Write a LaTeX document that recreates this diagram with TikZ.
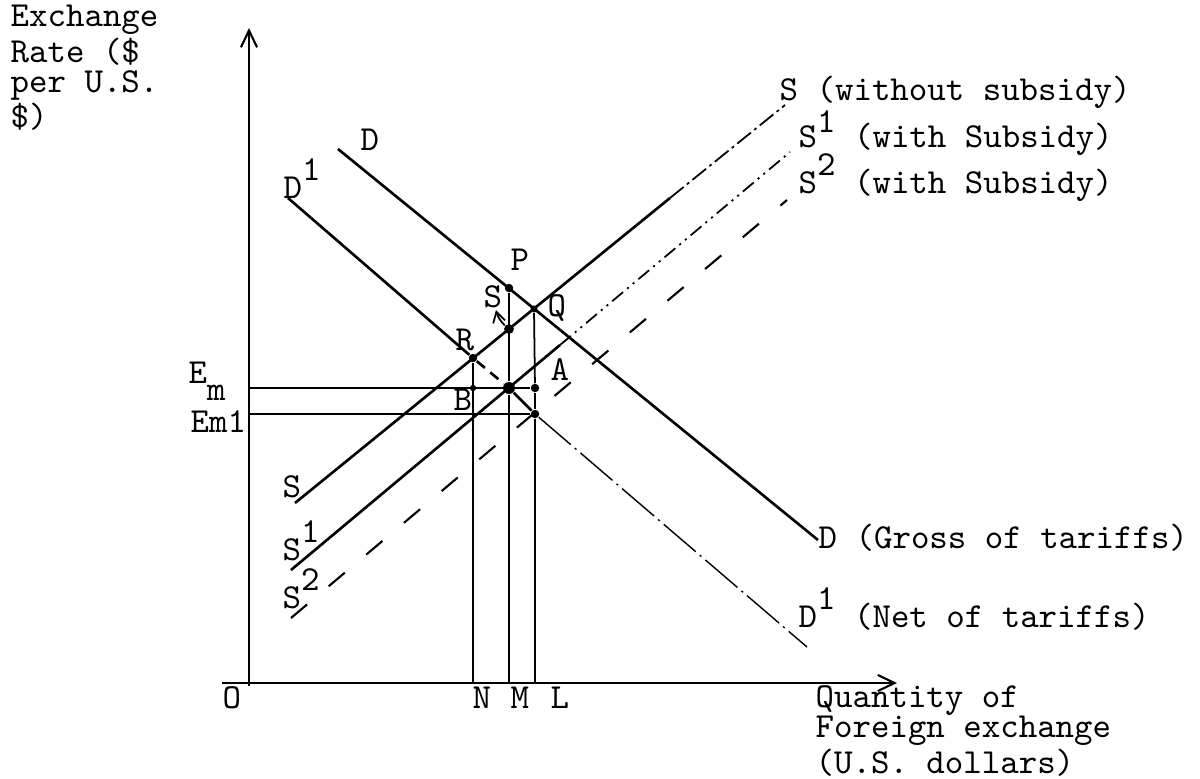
\documentclass[tikz,border=0pt]{standalone}
\usetikzlibrary{arrows.meta}
\newcommand{\up}[1]{\raisebox{0.5em}{#1}}
\newcommand{\dn}[1]{\raisebox{-0.5em}{#1}}
\lineskiplimit=-100pt
\begin{document}
\begin{tikzpicture}[x=0.01cm, y=-0.01cm,
  every node/.style={font=\fontsize{10}{8.6}\selectfont\ttfamily, inner sep=0pt},
  lbl/.style={anchor=base west},
  block/.style={anchor=north west, align=left, text width=#1,
    font=\fontsize{10}{8.5}\selectfont\ttfamily,
    execute at begin node={\setlength{\parindent}{0pt}\spaceskip=5.25pt\relax}},
  spot/.style={circle, fill, minimum size=#1},
  spot/.default=2.4pt,
  axis/.style={line width=0.6pt, -{Straight Barb[length=4.8pt,width=4.6pt]}},
  curve/.style={line width=0.75pt},
  fine/.style={line width=0.5pt},
  faint/.style={line width=0.4pt, dash pattern=on 12pt off 1.5pt on 0.6pt off 1.5pt},
  dashdot/.style={line width=0.5pt, dash pattern=on 5pt off 1.2pt on 0.8pt off 1.2pt},
  dashdotdot/.style={line width=0.5pt, dash pattern=on 4pt off 1.5pt on 0.6pt off 1.5pt on 0.6pt off 1.5pt},
  longdash/.style={line width=0.6pt, dash pattern=on 6pt off 8pt}
]
\useasboundingbox (0,0) rectangle (1200,778);

\coordinate (orig) at (249,686);
\coordinate (ytip) at (249,28);
\coordinate (xfrom) at (222,683);
\coordinate (xtip) at (897,683);
\draw[axis] (orig) -- (ytip);
\draw[axis] (xfrom) -- (xtip);

\coordinate (S0) at (295,503);
\coordinate (S1) at (670,198);
\coordinate (S2) at (785,105);
\coordinate (Sa0) at (291,570);
\coordinate (Sa1) at (560,345);
\coordinate (Sa2) at (790,152);
\coordinate (Sb0) at (291,618);
\coordinate (Sb2) at (787,200);
\coordinate (D0) at (338,149);
\coordinate (D2) at (818,540);
\coordinate (Da0) at (288,198);
\coordinate (Da2) at (807,647);
\coordinate (xN) at (473,683);
\coordinate (xM) at (509,683);
\coordinate (xL) at (535,683);
\coordinate (yEm) at (249,388);
\coordinate (yEm1) at (249,414);
\coordinate (Stip) at (496,310);

\node[spot] (P) at (509,288) {};
\node[spot=2.8pt] (Sdot) at (509,329) {};
\node[spot=2pt] (Q) at (534,309) {};
\node[spot] (R) at (473,358) {};
\node[spot=3.4pt] (C) at (509,388) {};
\node[spot] (A) at (535,388) {};
\node[spot=1.8pt] (B) at (473,388) {};
\node[spot] (Z) at (535,414) {};

\draw[curve] (S0) -- (S1);
\draw[dashdot] (S1) -- (S2);
\draw[curve] (Sa0) -- (Sa1);
\draw[dashdotdot] (Sa1) -- (Sa2);
\draw[longdash] (Sb0) -- (Sb2);
\draw[curve] (D0) -- (D2);
\draw[curve] (Da0) -- (R);
\draw[curve, dash pattern=on 3pt off 2pt] (R) -- (C);
\draw[curve] (C) -- (Z);
\draw[faint] (Z) -- (Da2);

\draw[curve] (R) -- (xN);
\draw[curve] (P) -- (C);
\draw[fine] (C) -- (xM);
\draw[fine] (Q) -- (A);
\draw[fine] (A) -- (Z);
\draw[fine] (Z) -- (xL);
\draw[fine] (yEm) -- (A);
\draw[fine] (yEm1) -- (Z);
\draw[fine, -{Straight Barb[length=3pt,width=3.5pt]}] (Sdot) to[bend left=15] (Stip);

\node[block=4cm] (ylabel) at (10,4) {Exchange\\Rate (\$\\per U.S.\\\$)};
\node[block=6cm] (xlabel) at (815,685) {Quantity of\\Foreign exchange\\(U.S. dollars)};

\node[lbl] (lD) at (360,150) {D};
\node[lbl] (lDa) at (283,198) {D\up{1}};
\node[lbl] (lS) at (282,497) {S};
\node[lbl] (lSa) at (282,560) {S\up{1}};
\node[lbl] (lSb) at (282,608) {S\up{2}};
\node[lbl] (lEm) at (188,383) {E\dn{m}};
\node[lbl] (lEm1) at (190,432) {Em1};
\node[lbl] (lP) at (510,270) {P};
\node[lbl] (lSs) at (483,307) {S};
\node[lbl] (lQ) at (547,316) {Q};
\node[lbl] (lR) at (455,350) {R};
\node[lbl] (lA) at (550,380) {A};
\node[lbl] (lB) at (453,410) {B};
\node[lbl] (lO) at (222,708) {O};
\node[lbl] (lN) at (472,708) {N};
\node[lbl] (lM) at (510,708) {M};
\node[lbl] (lL) at (550,708) {L};

\node[lbl] (rS) at (779,100) {S (without subsidy)};
\node[lbl] (rSa) at (798,147) {S\raisebox{0.4em}{1} (with Subsidy)};
\node[lbl] (rSb) at (798,193) {S\up{2} (with Subsidy)};
\node[lbl] (rD) at (818,548) {D (Gross of tariffs)};
\node[lbl] (rDa) at (798,627) {D\up{1} (Net of tariffs)};
\end{tikzpicture}
\end{document}
